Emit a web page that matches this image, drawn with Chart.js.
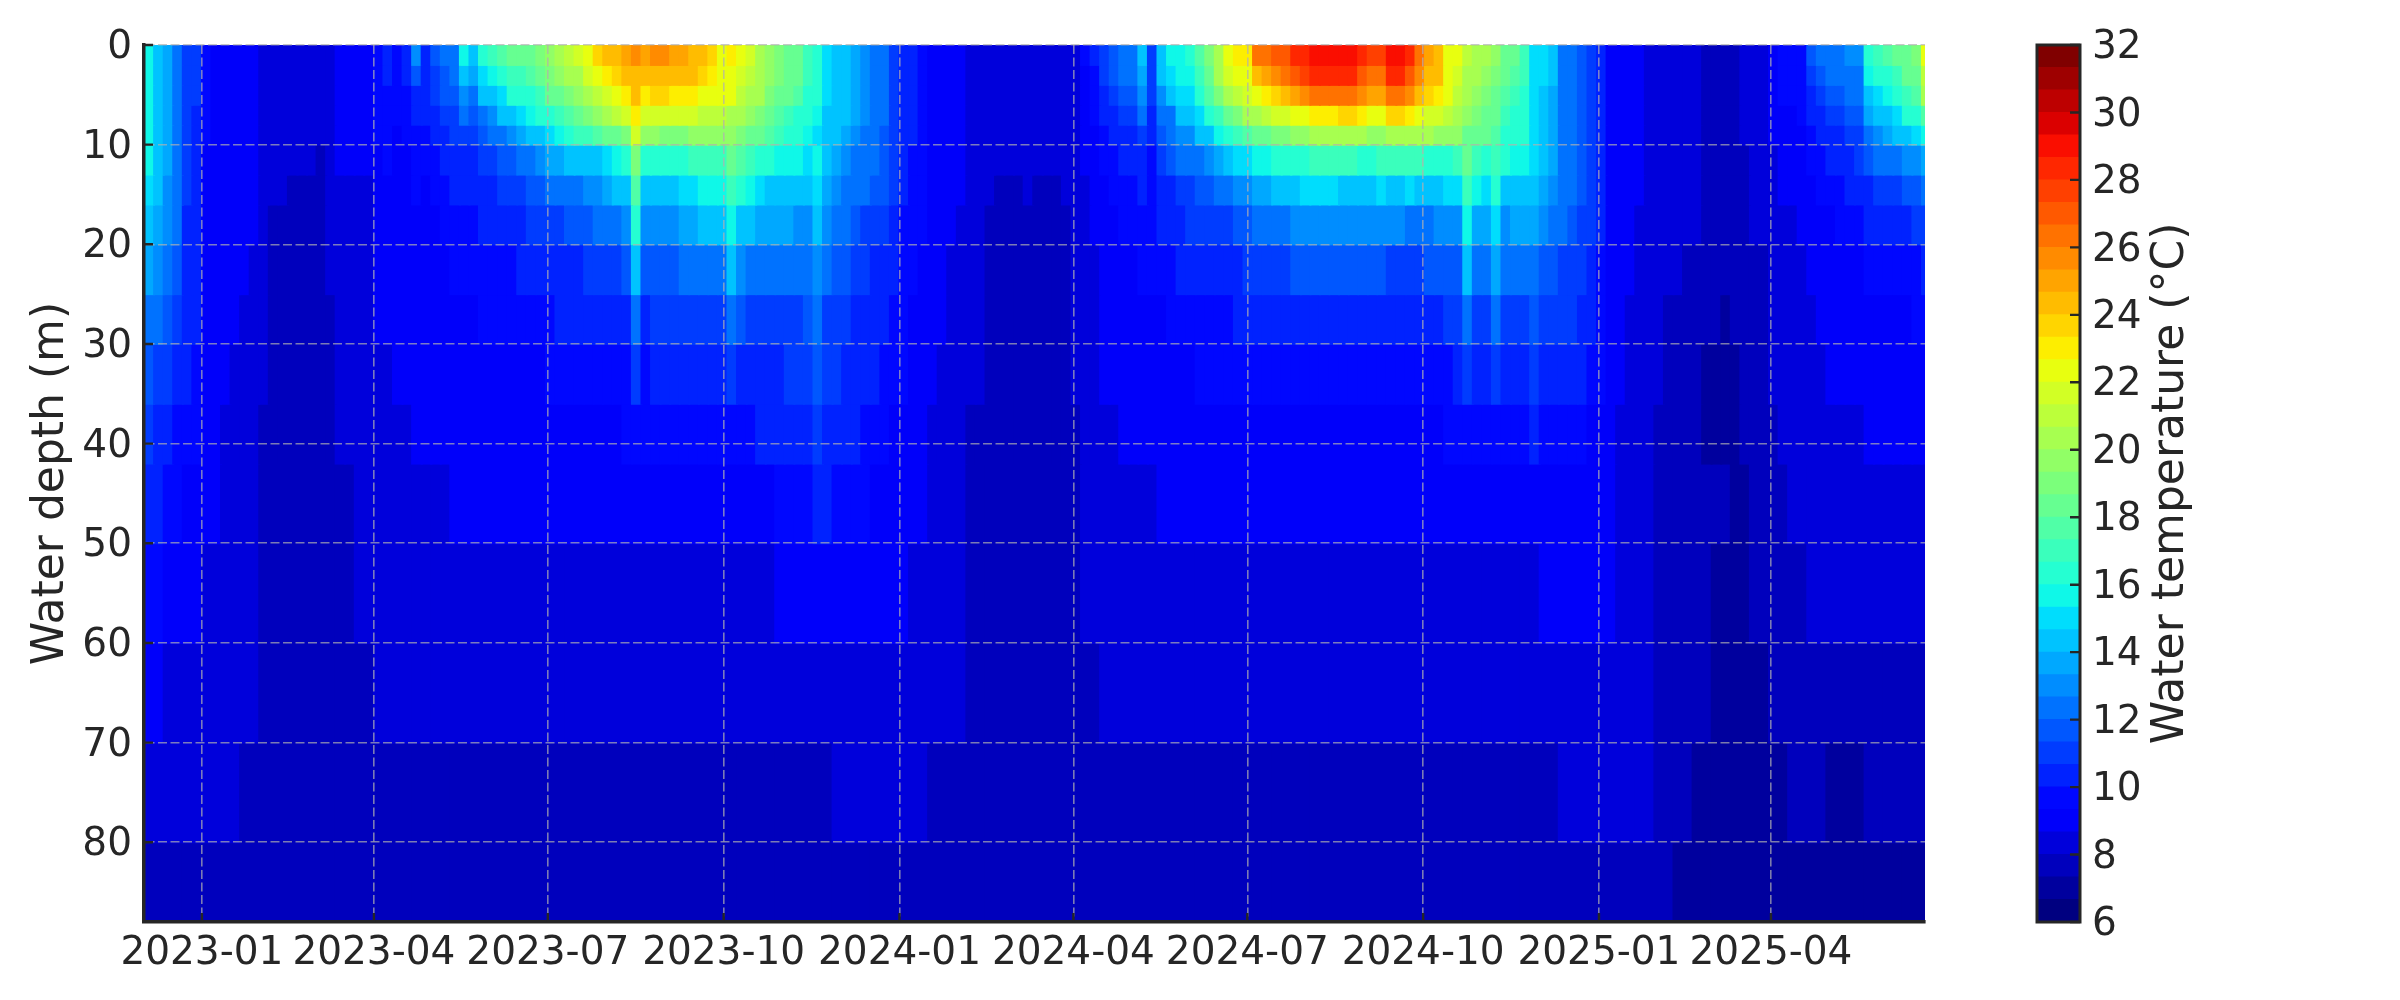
<!DOCTYPE html>
<html>
<head>
<meta charset="utf-8">
<script src="https://cdn.jsdelivr.net/npm/chart.js@4"></script>
<style>
body { margin: 0; background: #fff; width: 2400px; height: 1000px; overflow: hidden; position: relative; }
canvas { position: absolute; top: 0; }
</style>
</head>
<body>
<canvas id="heat" width="2000" height="1000" style="left:0"></canvas>
<canvas id="cbar" width="400" height="1000" style="left:2000px"></canvas>
<script>
// days since 2023-01-01: every 5 days down to 42 m, every 10 days below
var shallowDays = [-27.5,-22.5,-17.5,-12.5,-7.5,-2.5,2.5,7.5,12.5,17.5,22.5,27.5,32.5,37.5,42.5,47.5,52.5,57.5,62.5,67.5,72.5,77.5,82.5,87.5,92.5,97.5,102.5,107.5,112.5,117.5,122.5,127.5,132.5,137.5,142.5,147.5,152.5,157.5,162.5,167.5,172.5,177.5,182.5,187.5,192.5,197.5,202.5,207.5,212.5,217.5,222.5,227.5,232.5,237.5,242.5,247.5,252.5,257.5,262.5,267.5,272.5,277.5,282.5,287.5,292.5,297.5,302.5,307.5,312.5,317.5,322.5,327.5,332.5,337.5,342.5,347.5,352.5,357.5,362.5,367.5,372.5,377.5,382.5,387.5,392.5,397.5,402.5,407.5,412.5,417.5,422.5,427.5,432.5,437.5,442.5,447.5,452.5,457.5,462.5,467.5,472.5,477.5,482.5,487.5,492.5,497.5,502.5,507.5,512.5,517.5,522.5,527.5,532.5,537.5,542.5,547.5,552.5,557.5,562.5,567.5,572.5,577.5,582.5,587.5,592.5,597.5,602.5,607.5,612.5,617.5,622.5,627.5,632.5,637.5,642.5,647.5,652.5,657.5,662.5,667.5,672.5,677.5,682.5,687.5,692.5,697.5,702.5,707.5,712.5,717.5,722.5,727.5,732.5,737.5,742.5,747.5,752.5,757.5,762.5,767.5,772.5,777.5,782.5,787.5,792.5,797.5,802.5,807.5,812.5,817.5,822.5,827.5,832.5,837.5,842.5,847.5,852.5,857.5,862.5,867.5,872.5,877.5,882.5,887.5,892.5,897.5,902.5];
var deepDays = [-25,-15,-5,5,15,25,35,45,55,65,75,85,95,105,115,125,135,145,155,165,175,185,195,205,215,225,235,245,255,265,275,285,295,305,315,325,335,345,355,365,375,385,395,405,415,425,435,445,455,465,475,485,495,505,515,525,535,545,555,565,575,585,595,605,615,625,635,645,655,665,675,685,695,705,715,725,735,745,755,765,775,785,795,805,815,825,835,845,855,865,875,885,895,905];
var depthEdges = [0,2,4,6,8,10,13,16,20,25,30,36,42,50,60,70,80,88];

var xTickDays = [0,90,181,273,365,456,547,639,731,821];
var xTickLabels = ['2023-01','2023-04','2023-07','2023-10','2024-01','2024-04','2024-07','2024-10','2025-01','2025-04'];
var depthTicks = [0,10,20,30,40,50,60,70,80];
var tempTicks = [6,8,10,12,14,16,18,20,22,24,26,28,30,32];
var tempLevels = [6,6.667,7.333,8,8.667,9.333,10,10.667,11.333,12,12.667,13.333,14,14.667,15.333,16,16.667,17.333,18,18.667,19.333,20,20.667,21.333,22,22.667,23.333,24,24.667,25.333,26,26.667,27.333,28,28.667,29.333,30,30.667,31.333,32];

var t0to2 = [15.5,14.5,13.5,12.5,11,10.8,9.4,9.3,9.2,9,
9,8.9,8.5,8.3,8.2,8.1,8.1,8.4,8,8.6,
8.9,8.9,8.9,8.9,9.8,10,9.6,10.2,13,10.5,
11.5,12,12.5,15.5,14.5,16,17,17.5,18,18,
18.5,19,19.5,20.5,21,21.5,22.5,23.5,24,24.5,
25,25.5,25,25.5,25.5,25,25,24.5,24,23.5,
22.5,23,22,21.5,20.5,19.5,19,18.5,18,17,
16.5,15,14.5,14,13.5,13,12.5,12,11,10,
10,9.8,9.3,9.3,9,8.9,8.6,8.6,8.1,8.1,
8.1,8,8.3,8.1,8.1,8.1,8.2,8.6,9.4,10,
11,11.5,12,12,14,11,14.5,15.5,15.5,16,
17.5,19,20.5,22,23,23,26,26.5,27,27,
28,28,29,29,29,29,29,28,27.5,27.5,
29,29,28,26.5,25,24.5,22.5,22,21,20.5,
20,19.5,18.5,18,17,15,15,14,12.5,12,
11.5,11,10,9.3,9,8.9,8.8,8.3,8.2,8.2,
8.1,8.1,8,7.8,7.8,7.7,7.8,8,8,8.5,
9,9.5,9.5,9.6,11.5,12,12.5,12.5,13,13,
16.5,17,17.5,18,18.5,19,22];
var t2to4 = [15.5,14.5,13.5,12.5,11,10.8,9.4,9.3,9.2,9,
9,8.9,8.5,8.3,8.2,8.1,8.1,8.4,8,8.6,
8.9,8.9,8.9,8.9,9.7,10,9.5,10,11.5,10.3,
11.3,11.8,12,14,13.5,15,15.5,16,17,17,
17.5,18,19,19.5,20,20.5,21.5,22,23,23.5,
24,24.5,24,24.5,24.5,24,24,24,23.5,23,
22.5,22.5,21.5,21,20.5,19.5,19,18.5,18,17,
16.5,15,14.5,14,13.5,13,12.5,12,11,10,
10,9.8,9.3,9.3,9,8.9,8.6,8.6,8.1,8.1,
8.1,8,8.3,8.1,8.1,8.1,8.2,8.6,9.2,9.8,
11,11.5,12,12,13.5,11,14,15,15.5,15.5,
17,18.5,20,21.5,22,22.5,24,25,25.5,26,
27,27.5,28,28,28,28,28,27,26.5,26.5,
28,28,27,25.5,24.5,24,22.5,21.5,20.5,20,
19.5,19,18,17.5,17,15,15,14,12.5,12,
11.5,11,10,9.3,9,8.9,8.8,8.3,8.2,8.2,
8.1,8.1,8,7.8,7.8,7.7,7.8,8,8,8.5,
9,9.5,9.5,9.6,11,11.5,12,12,12.5,12.5,
15.5,16,16.5,17,18,18.5,21];
var t4to6 = [15.5,14.5,13.5,12.5,11,10.7,9.4,9.3,9.2,9,
9,8.9,8.5,8.3,8.2,8.1,8.1,8.3,8,8.6,
8.9,8.9,8.9,8.9,9.6,9.8,9.5,9.9,10.5,10.2,
11,11.5,11.8,13,12.5,14,14.5,15,16,16,
16.5,17,18,18.5,19,19.5,20.5,21,21.5,22.5,
23,24,23,23.5,23.5,23,23,23,22.5,22.5,
22,22,21,20.5,20,19,18.5,18,17.5,16.5,
16,15,14.5,14,13.5,13,12.5,12,11,10,
10,9.8,9.3,9.3,9,8.9,8.6,8.6,8.1,8.1,
8.1,8,8.3,8.1,8.1,8.1,8.2,8.6,9,9.6,
10.5,11,11.5,11.5,13,10.8,13,14,15,15,
16.5,17.5,19,20.5,21,21.5,22.5,23,23.5,24,
25,25.5,26.5,26.5,26.5,26.5,26.5,25.5,25,25,
26.5,26.5,25.5,24.5,23.5,23,22,21,20,19.5,
19,18.5,17.5,17,16.5,15,14.5,13.5,12.5,12,
11.5,11,10,9.3,9,8.9,8.8,8.3,8.2,8.2,
8.1,8.1,8,7.8,7.8,7.7,7.8,8,8,8.5,
9,9.4,9.4,9.5,10.5,11,11.5,11.5,12,12,
14.5,15,15.5,16,17,17.5,20];
var t6to8 = [15.5,14.5,13.5,12.5,11,10.6,9.4,9.3,9.1,9,
9,8.9,8.5,8.2,8.2,8.1,8.1,8.2,8,8.5,
8.9,8.9,8.9,8.9,9.5,9.6,9.4,9.6,10,10,
10.5,11,11.2,12,11.5,12.5,13,14,14.5,15,
15.5,16,16.5,17,17.5,18.5,19,19.5,20,21,
21.5,23,21.5,21.5,21.5,21.5,21.5,21.5,21,21,
21,20.5,20,19.5,19,18,17.5,17,16.5,16,
15.5,14.5,14.5,14,13.5,13,12.5,12,11,10,
10,9.7,9.3,9.3,9,8.9,8.6,8.6,8.1,8.1,
8.1,8,8.2,8.1,8.1,8.1,8.2,8.5,8.9,9.4,
10,10.5,11,11,12,10.3,12,12.5,14,14,
15,16,17,18.5,19,20,20.5,21,21.5,21.5,
22,22.5,23,23,23,23.5,23.5,23,22.5,22.5,
23.5,23.5,23,22.5,21.5,21.5,21,20.5,19.5,19,
18.5,18,17,16.5,16,15,14,13.5,12.5,12,
11.5,11,10,9.3,9,8.9,8.8,8.3,8.2,8.2,
8.1,8.1,8,7.8,7.8,7.7,7.8,8,8,8.4,
8.9,9.3,9.3,9.4,10,10.5,11,11,11.5,11.5,
13.5,14,14.5,15,16,16.5,17.5];
var t8to10 = [15.5,14.5,13.5,12.5,11,10.5,9.4,9.2,9.1,9,
9,8.8,8.5,8.2,8.1,8.1,8,8.1,8,8.4,
8.8,8.8,8.8,8.8,9.4,9.5,9.3,9.4,9.8,9.8,
10,10.5,10.8,11.2,11,11.8,12,12.5,13,13.5,
14,14.5,15,15.5,16,17,17,17.5,18,18.5,
19,21.5,19.5,19.5,19,19,19,19.5,19.5,19.5,
19.5,19.5,19,18.5,18,17.5,17,16.5,16,15.5,
15,14.5,14,13.5,13,12.5,12,11.5,11,10,
10,9.7,9.2,9.2,9,8.9,8.5,8.5,8.1,8.1,
8.1,8,8.2,8.1,8.1,8,8.1,8.5,8.8,9.2,
9.8,10,10.5,10.5,11,10,11.5,12,13,13,
14,14.5,15.5,16.5,17,17.5,18,18.5,19,19,
19.5,19.5,20,20,20,20,20,20,19.5,19.5,
20,20,20.5,20,20,19.5,19.5,19.5,18.5,18.5,
18,17.5,16.5,16,16,15,14,13.5,12.5,12,
11.5,11,10,9.3,9,8.9,8.7,8.3,8.2,8.2,
8.1,8.1,8,7.8,7.8,7.7,7.8,8,8,8.3,
8.8,9.1,9.2,9.3,9.8,10,10.5,10.5,11,11,
12.5,13,13.5,14,14.5,15,15.5];
var t10to13 = [15.5,14.5,13.5,12.5,11,10.5,9.3,9.2,9,9,
8.9,8.8,8.4,8.1,8.1,8,8,8,7.9,8.3,
8.7,8.7,8.7,8.7,9.2,9.4,9.2,9.3,9.6,9.6,
9.8,10.2,10.5,10.6,10.5,11,11,11.5,11.5,12,
12.5,13,13.5,13.5,14,14,14.5,14.5,15,15.5,
16,19,16.5,16.5,16,16,16.5,17,17,17,
17,18,17.5,17,16.5,16,15.5,15.5,15.5,15,
15.5,14,13.5,13,12.5,12,12,11.5,10.8,10,
9.8,9.6,9.2,9.1,8.9,8.8,8.4,8.4,8.1,8,
8,8,8.1,8,8,8,8.1,8.4,8.7,9,
9.4,9.6,10,10.2,10.5,9.8,11,11.5,12,12,
12.5,13,13.5,14,15,15,15.5,15.5,16,16,
16.5,16.5,17,17,17,17,17,16.5,16.5,17,
17,17,17,17,16.5,16.5,16.5,17,18,17,
16.5,17,16,15.5,15.5,15,14,13.5,12.5,12,
11.5,11,10,9.3,9,8.9,8.7,8.3,8.2,8.2,
8.1,8.1,8,7.8,7.8,7.7,7.8,7.9,8,8.2,
8.6,8.9,9,9.1,9.4,9.7,10,10,10.5,10.8,
11.5,12,12.5,12.5,13,13,13.5];
var t13to16 = [15,14.2,13.2,12.3,10.8,10.4,9.3,9.2,9,8.9,
8.9,8.8,8.3,8,8,7.9,7.9,7.9,7.8,8.2,
8.6,8.6,8.6,8.6,9,9.2,9.1,9.2,9.4,9.3,
9.5,9.8,10,10.2,10.1,10.5,10.5,10.8,10.8,11,
11.5,11.8,12,12.2,12.5,12.5,13,13,13.5,14,
14.5,17.5,14.5,14.5,14.5,14.5,15,15,15.5,15.5,
15.5,17,16,15.5,15,14.5,14.5,14.5,14,14,
15,13.5,13,12.5,12,12,11.5,11.5,10.8,10,
9.6,9.5,9.1,9,8.8,8.7,8.3,8.3,8,7.9,
7.9,7.9,8,7.9,7.9,7.9,8,8.3,8.6,8.8,
9.2,9.4,9.6,9.8,10,9.6,10.3,10.5,11,11,
11.5,11.5,12,12.5,13,13,13.5,13.5,14,14,
14.5,15,15,15,15,14.5,14.5,14.5,14.5,15,
14.5,14.5,15,14.5,14.5,14.5,15,15,17,15.5,
15,16,14.5,14.5,14.5,14.5,13.5,13,12.5,12,
11.5,11,10,9.3,9,8.9,8.7,8.3,8.2,8.2,
8.1,8.1,8,7.8,7.8,7.7,7.8,7.9,8,8.1,
8.5,8.7,8.8,8.9,9.2,9.4,9.6,9.8,10,10.3,
10.5,11,11,11.2,11.5,11.5,12];
var t16to20 = [14.5,13.8,13,12,10.6,10.3,9.3,9.1,9,8.9,
8.8,8.7,8.2,7.9,7.9,7.8,7.8,7.8,7.7,8.1,
8.5,8.5,8.5,8.5,8.9,9,9,9,9.2,9.1,
9.3,9.5,9.7,9.8,9.8,10,10.1,10.3,10.3,10.4,
10.8,11,11,11.2,11.4,11.5,11.8,12,12,12.3,
13,16,13,13,13,13,13.5,13.5,14,14,
14,15.5,14.5,14,13.5,13.5,13.5,13.5,13,13,
14.5,12.8,12.3,12,11.5,11.2,11,11,10.5,9.9,
9.5,9.4,9,8.9,8.7,8.6,8.2,8.2,7.9,7.9,
7.8,7.8,7.9,7.8,7.8,7.8,7.9,8.2,8.5,8.7,
9,9.2,9.4,9.6,9.8,9.5,10,10.2,10.5,10.7,
10.8,11,11.2,11.3,11.5,11.6,12,12,12.3,12.5,
13,13,13,13,13,13,13,13,13,13,
12.8,12.8,12.5,12.5,12.5,13,13,13,15.5,13.5,
13.5,15,13.3,13.5,13.5,13.5,12.8,12.5,12,11.5,
11.2,10.8,10,9.3,9,8.8,8.6,8.3,8.2,8.1,
8.1,8,8,7.8,7.7,7.6,7.7,7.9,8,8,
8.4,8.5,8.6,8.7,9,9.1,9.3,9.5,9.7,9.8,
10,10.1,10.2,10.4,10.6,10.7,10.9];
var t20to25 = [13.5,12.8,12.2,11.8,10.4,10.2,9.2,9,8.9,8.8,
8.7,8.6,8.1,7.9,7.8,7.8,7.7,7.7,7.6,8,
8.4,8.4,8.4,8.4,8.8,8.9,8.9,8.9,9,9,
9.2,9.3,9.4,9.5,9.5,9.7,9.8,9.9,9.9,10,
10.1,10.3,10.3,10.5,10.6,10.6,10.8,10.9,10.9,11.2,
11.5,14,11.5,11.6,11.7,11.7,12,12,12.5,12.5,
12.5,14,12.8,12.5,12.2,12,12,12.3,12,12,
13,12,11.7,11.5,11,10.8,10.5,10.5,10.2,9.8,
9.4,9.2,8.9,8.8,8.6,8.5,8.1,8.1,7.9,7.8,
7.8,7.7,7.8,7.7,7.7,7.7,7.8,8.1,8.4,8.6,
8.9,9.1,9.2,9.3,9.5,9.4,9.6,9.8,10,10.1,
10.2,10.3,10.5,10.6,10.6,10.7,10.8,10.9,11,11,
11.5,11.5,11.5,11.5,11.5,11.5,11.5,11.5,11.5,11.5,
11.3,11.3,11.2,11.2,11.4,11.5,11.5,11.7,14,12,
12,13.5,12,12,12,12.5,11.8,11.5,11.2,11,
10.8,10.3,9.8,9.2,8.8,8.7,8.5,8.3,8.1,8,
8,7.9,7.9,7.7,7.6,7.5,7.6,7.8,7.9,7.9,
8.2,8.4,8.5,8.6,8.8,8.9,9,9.1,9.2,9.3,
9.4,9.5,9.6,9.7,9.8,9.9,10];
var t25to30 = [12.5,12.2,11.6,11.2,10.2,10,9.1,8.9,8.8,8.7,
8.6,8.5,8,7.8,7.7,7.7,7.6,7.6,7.5,7.9,
8.3,8.3,8.3,8.3,8.7,8.8,8.8,8.8,8.9,8.9,
9,9.1,9.2,9.3,9.3,9.4,9.5,9.5,9.6,9.6,
9.7,9.8,9.9,10,10,10.1,10.2,10.2,10.3,10.4,
10.6,12.5,10.6,10.7,10.8,10.8,11,11,11.2,11.2,
11.2,12.5,11.5,11,11,11,11,11.3,11.3,11.5,
12.5,11.3,11,10.8,10.6,10.4,10.2,10,9.9,9.6,
9.2,9,8.8,8.7,8.5,8.4,8,8,7.8,7.7,
7.7,7.6,7.7,7.7,7.6,7.6,7.7,8,8.3,8.5,
8.8,8.9,9,9.1,9.2,9.2,9.3,9.5,9.6,9.7,
9.8,9.8,9.9,9.9,10,10,10,10,10.1,10.2,
10.5,10.5,10.6,10.6,10.6,10.6,10.6,10.6,10.6,10.6,
10.5,10.5,10.5,10.5,10.6,10.6,10.8,10.8,12.5,11,
11,12.5,11,11,11.2,11.5,11.2,11,10.8,10.7,
10.5,10,9.6,9.1,8.8,8.6,8.4,8.2,8,7.9,
7.9,7.8,7.8,7.5,7.4,7.3,7.4,7.7,7.8,7.8,
8.1,8.3,8.4,8.5,8.6,8.7,8.8,8.9,9,9,
9.1,9.1,9.2,9.2,9.3,9.4,9.5];
var t30to36 = [11.5,11.3,10.8,10.5,10,9.8,9,8.8,8.7,8.6,
8.6,8.4,8,7.8,7.7,7.6,7.6,7.5,7.5,7.9,
8.2,8.2,8.2,8.2,8.6,8.6,8.7,8.7,8.8,8.8,
8.9,8.9,9,9.1,9,9.1,9.1,9.2,9.2,9.2,
9.3,9.3,9.4,9.4,9.5,9.5,9.6,9.6,9.7,9.7,
9.8,10.8,9.9,10,10,10,10.2,10.2,10.4,10.4,
10.4,11,10.5,10.4,10.5,10.5,10.6,10.8,11,11,
11.8,10.9,10.8,10.6,10.4,10.2,10,9.8,9.7,9.4,
9.1,8.9,8.7,8.6,8.4,8.3,8,8,7.7,7.7,
7.6,7.6,7.6,7.6,7.6,7.5,7.6,8,8.2,8.4,
8.7,8.8,8.9,8.9,9,9,9.1,9.2,9.2,9.3,
9.4,9.4,9.5,9.5,9.5,9.6,9.6,9.6,9.6,9.7,
9.7,9.8,9.8,9.8,9.8,9.8,9.8,9.8,9.8,9.8,
9.7,9.7,9.7,9.8,9.8,9.8,9.9,10,11,10.1,
10.2,11,10.3,10.4,10.5,10.8,10.6,10.4,10.2,10,
10,9.7,9.4,9,8.7,8.5,8.3,8.1,8,7.9,
7.9,7.8,7.6,7.3,7.3,7.2,7.3,7.4,7.6,7.7,
8,8.2,8.3,8.4,8.5,8.6,8.7,8.7,8.8,8.8,
8.9,8.9,9,9,9,9,9.1];
var t36to42 = [10.8,10.5,10,9.8,9.6,9.4,8.9,8.8,8.6,8.5,
8.5,8.3,7.9,7.7,7.6,7.6,7.5,7.5,7.5,7.8,
8.2,8.2,8.2,8.2,8.5,8.5,8.6,8.6,8.7,8.7,
8.8,8.8,8.8,8.9,8.9,8.9,8.9,9,9,9,
9,9,9,9.1,9.1,9.2,9.2,9.3,9.3,9.3,
9.4,9.8,9.4,9.4,9.5,9.5,9.6,9.6,9.7,9.7,
9.7,9.9,9.8,9.8,10,10,10.2,10.2,10.4,10.5,
11,10.6,10.4,10.3,10,9.9,9.7,9.5,9.3,9.2,
9,8.8,8.6,8.5,8.3,8.2,7.9,7.9,7.7,7.6,
7.6,7.5,7.5,7.5,7.5,7.5,7.6,7.9,8.1,8.3,
8.5,8.6,8.7,8.7,8.8,8.8,8.9,8.9,8.9,9,
9,9,9,9.1,9.1,9.1,9.2,9.2,9.2,9.2,
9.2,9.2,9.2,9.2,9.2,9.2,9.2,9.2,9.2,9.2,
9.2,9.2,9.2,9.3,9.3,9.3,9.4,9.4,9.6,9.5,
9.6,9.8,9.7,9.8,9.8,10,9.8,9.7,9.6,9.5,
9.5,9.3,9.1,8.9,8.6,8.4,8.2,8,7.8,7.7,
7.7,7.7,7.5,7.3,7.2,7.1,7.2,7.4,7.6,7.7,
7.9,8.1,8.2,8.3,8.4,8.4,8.5,8.5,8.6,8.6,
8.7,8.7,8.7,8.7,8.8,8.8,8.8];
var t42to50 = [10,9.6,9.2,8.8,8.5,8.2,7.8,7.5,7.4,7.4,
7.7,8.1,8.4,8.5,8.6,8.6,8.7,8.7,8.8,8.8,
8.8,8.8,8.9,8.9,8.9,9,9,9,9.1,9.1,
9.2,9.2,9.3,9.4,9.6,10,9.8,9.5,9.2,9,
8.8,8.5,8.2,7.9,7.6,7.5,7.5,7.5,7.8,8.1,
8.3,8.5,8.6,8.7,8.7,8.7,8.8,8.8,8.8,8.8,
8.8,8.8,8.8,8.8,8.8,8.8,8.9,8.9,9,9,
9.1,9.1,9.2,9.3,9.2,9.1,8.9,8.6,8.3,7.9,
7.7,7.6,7.4,7.2,7.5,7.8,8,8.2,8.3,8.4,
8.5,8.5,8.5,8.6];
var t50to60 = [9.4,9,8.8,8.6,8.4,8.1,7.7,7.5,7.4,7.4,
7.6,8,8.3,8.3,8.4,8.4,8.4,8.4,8.4,8.4,
8.4,8.4,8.4,8.4,8.4,8.5,8.5,8.5,8.5,8.5,
8.6,8.6,8.6,8.7,8.8,9,9.1,9,8.8,8.7,
8.6,8.3,8.1,7.8,7.5,7.5,7.4,7.4,7.7,8,
8.2,8.3,8.3,8.3,8.4,8.4,8.4,8.4,8.4,8.5,
8.5,8.5,8.5,8.5,8.5,8.5,8.5,8.5,8.5,8.6,
8.6,8.6,8.6,8.7,8.7,8.8,8.7,8.5,8.2,7.8,
7.6,7.5,7.3,7.1,7.4,7.7,7.9,8,8.1,8.1,
8.2,8.2,8.2,8.2];
var t60to70 = [8.8,8.6,8.5,8.3,8.2,8,7.6,7.5,7.4,7.4,
7.5,7.9,8.1,8.1,8.1,8.1,8.1,8.1,8.1,8.1,
8.1,8.1,8.1,8.1,8.1,8.1,8.1,8.1,8.1,8.1,
8.1,8.2,8.2,8.2,8.2,8.3,8.4,8.5,8.4,8.3,
8.3,8.1,8,7.7,7.5,7.4,7.4,7.4,7.6,7.9,
8,8,8.1,8.1,8.1,8.1,8.1,8.1,8.2,8.2,
8.2,8.2,8.2,8.2,8.2,8.2,8.2,8.2,8.2,8.2,
8.2,8.2,8.2,8.3,8.3,8.4,8.5,8.4,8.1,7.7,
7.5,7.4,7.2,7,7.2,7.5,7.7,7.8,7.8,7.9,
7.9,7.9,7.9,7.9];
var t70to80 = [8.2,8,8.1,8.1,8,7.9,7.5,7.5,7.4,7.4,
7.4,7.7,7.9,7.9,7.9,7.8,7.8,7.8,7.8,7.8,
7.8,7.7,7.7,7.6,7.6,7.6,7.6,7.5,7.6,7.6,
7.7,7.7,7.7,7.7,7.8,7.9,8,8.1,8.1,8,
8,7.9,7.8,7.6,7.4,7.4,7.4,7.4,7.5,7.7,
7.8,7.8,7.9,7.9,7.9,7.9,7.9,7.9,7.9,7.9,
7.9,7.9,7.9,7.9,7.9,7.9,7.9,7.9,7.9,7.9,
7.9,7.9,7.9,7.9,8,8,8.2,8.2,8,7.6,
7.4,7.3,7.1,6.9,7,7.3,7.4,7.4,7.3,7.3,
7.4,7.5,7.5,7.6];
var t80to88 = [7.6,7.7,7.9,7.7,7.5,7.8,7.5,7.4,7.4,7.4,
7.4,7.5,7.6,7.6,7.6,7.6,7.6,7.6,7.5,7.5,
7.4,7.4,7.4,7.4,7.4,7.4,7.4,7.4,7.4,7.4,
7.4,7.4,7.4,7.4,7.5,7.6,7.6,7.6,7.7,7.7,
7.8,7.7,7.6,7.4,7.4,7.4,7.4,7.4,7.4,7.6,
7.7,7.7,7.7,7.7,7.7,7.7,7.7,7.7,7.7,7.7,
7.7,7.7,7.7,7.7,7.7,7.7,7.7,7.7,7.7,7.7,
7.7,7.7,7.7,7.7,7.7,7.8,7.9,7.9,7.8,7.5,
7.3,7.2,7,6.8,6.8,7,7.1,7,6.9,6.9,
7,7.2,7.3,7.3];
var depthRows = [t0to2,t2to4,t4to6,t6to8,t8to10,t10to13,t13to16,t16to20,t20to25,t25to30,t30to36,t36to42,t42to50,t50to60,t60to70,t70to80,t80to88];

var textColor = '#262626';
var fontName = '"DejaVu Sans"';

// matplotlib jet
function seg(points, v) {
    for (var i = 1; i < points.length; i++) {
        if (v <= points[i][0]) {
            var a = points[i-1], b = points[i];
            return a[1] + (b[1]-a[1]) * (v-a[0]) / (b[0]-a[0]);
        }
    }
    return points[points.length-1][1];
}
function jet(v) {
    var r = seg([[0,0],[.35,0],[.66,1],[.89,1],[1,.5]], v);
    var g = seg([[0,0],[.125,0],[.375,1],[.64,1],[.91,0],[1,0]], v);
    var b = seg([[0,.5],[.11,1],[.34,1],[.65,0],[1,0]], v);
    return 'rgb(' + Math.round(r*255) + ',' + Math.round(g*255) + ',' + Math.round(b*255) + ')';
}
var bandColors = tempLevels.slice(1).map(function(_, i) { return jet(i / (tempLevels.length - 2)); });
function colorFor(t) {
    for (var i = 0; i < bandColors.length; i++) {
        if (t < tempLevels[i+1]) return bandColors[i];
    }
    return bandColors[bandColors.length-1];
}

// matplotlib style ticks pointing into the plot
var inwardTicks = {
    id: 'inwardTicks',
    afterDraw: function(chart, args, opts) {
        var c = chart.ctx, a = chart.chartArea;
        c.save();
        c.strokeStyle = textColor;
        c.lineWidth = 2.4;
        c.beginPath();
        opts.axes.forEach(function(id) {
            var s = chart.scales[id];
            s.ticks.forEach(function(t, i) {
                var p = s.getPixelForTick(i);
                if (id === 'x') { c.moveTo(p, a.bottom); c.lineTo(p, a.bottom - 9); }
                else if (s.position === 'left') { c.moveTo(a.left, p); c.lineTo(a.left + 9, p); }
                else { c.moveTo(a.right, p); c.lineTo(a.right - 10, p); }
            });
        });
        c.stroke();
        c.restore();
    }
};

new Chart(document.getElementById('heat'), {
    type: 'bar',
    data: {
        datasets: depthRows.map(function(row, r) {
            var days = row.length === deepDays.length ? deepDays : shallowDays;
            return {
                label: depthEdges[r] + '-' + depthEdges[r+1] + ' m',
                data: days.map(function(d) { return { x: d, y: [depthEdges[r], depthEdges[r+1]] }; }),
                backgroundColor: row.map(colorFor),
                borderWidth: 0,
                inflateAmount: 1,
                // the two day lists interleave, so the closest spacing is 2.5 days
                barPercentage: days === deepDays ? 4 : 2,
                categoryPercentage: 1,
                grouped: false
            };
        })
    },
    plugins: [inwardTicks],
    options: {
        responsive: false,
        animation: false,
        devicePixelRatio: 1,
        layout: { padding: { top: 45, right: 75 } },
        plugins: { legend: { display: false }, tooltip: { enabled: false }, inwardTicks: { axes: ['x', 'y'] } },
        scales: {
            x: {
                type: 'linear',
                offset: false,
                min: -30.3,
                max: 901.6,
                afterBuildTicks: function(s) { s.ticks = xTickDays.map(function(v) { return { value: v }; }); },
                afterFit: function(s) { s.height = 78; },
                ticks: {
                    autoSkip: false,
                    maxRotation: 0,
                    padding: 8,
                    color: textColor,
                    font: { family: fontName, size: 39 },
                    callback: function(v) { return xTickLabels[xTickDays.indexOf(v)]; }
                },
                grid: { z: 1, offset: false, drawTicks: false, color: 'rgba(176,176,176,0.7)', lineWidth: 1.6 },
                border: { display: true, z: 2, color: textColor, width: 3.5, dash: [9, 3.5] }
            },
            y: {
                type: 'linear',
                reverse: true,
                min: 0,
                max: 88,
                afterBuildTicks: function(s) { s.ticks = depthTicks.map(function(v) { return { value: v }; }); },
                afterFit: function(s) { s.width = 144; },
                ticks: { padding: 12, labelOffset: 3, color: textColor, font: { family: fontName, size: 39 } },
                grid: { z: 1, drawTicks: false, color: 'rgba(176,176,176,0.7)', lineWidth: 1.6 },
                border: { display: true, z: 2, color: textColor, width: 3.5, dash: [9, 3.5] },
                title: { display: true, text: 'Water depth (m)', color: textColor, font: { family: fontName, size: 44 }, padding: { top: 25, bottom: 0 } }
            }
        }
    }
});

// vertical title and frame of the colour bar
var cbarFrame = {
    id: 'cbarFrame',
    afterDraw: function(chart) {
        var c = chart.ctx, a = chart.chartArea;
        c.save();
        c.strokeStyle = textColor;
        c.lineWidth = 3;
        c.strokeRect(a.left, a.top, a.right - a.left, a.bottom - a.top);
        c.translate(183, (a.top + a.bottom) / 2);
        c.rotate(-Math.PI / 2);
        c.fillStyle = textColor;
        c.font = '44px ' + fontName;
        c.textAlign = 'center';
        c.textBaseline = 'alphabetic';
        c.fillText('Water temperature (°C)', 0, 0);
        c.restore();
    }
};

new Chart(document.getElementById('cbar'), {
    type: 'bar',
    data: {
        labels: ['T'],
        datasets: bandColors.map(function(col, i) {
            return {
                data: [[tempLevels[i], tempLevels[i+1]]],
                backgroundColor: col,
                borderWidth: 0,
                inflateAmount: 0.5,
                barPercentage: 1,
                categoryPercentage: 1,
                grouped: false
            };
        })
    },
    plugins: [inwardTicks, cbarFrame],
    options: {
        responsive: false,
        animation: false,
        devicePixelRatio: 1,
        layout: { padding: { top: 45, bottom: 78, left: 37 } },
        plugins: { legend: { display: false }, tooltip: { enabled: false }, inwardTicks: { axes: ['y'] } },
        scales: {
            x: { display: false },
            y: {
                position: 'right',
                min: 6,
                max: 32,
                afterBuildTicks: function(s) { s.ticks = tempTicks.map(function(v) { return { value: v }; }); },
                afterFit: function(s) { s.width = 320; },
                ticks: { padding: 12, labelOffset: 3, color: textColor, font: { family: fontName, size: 39 } },
                grid: { display: false, drawTicks: false },
                border: { display: false }
            }
        }
    }
});
</script>
</body>
</html>
